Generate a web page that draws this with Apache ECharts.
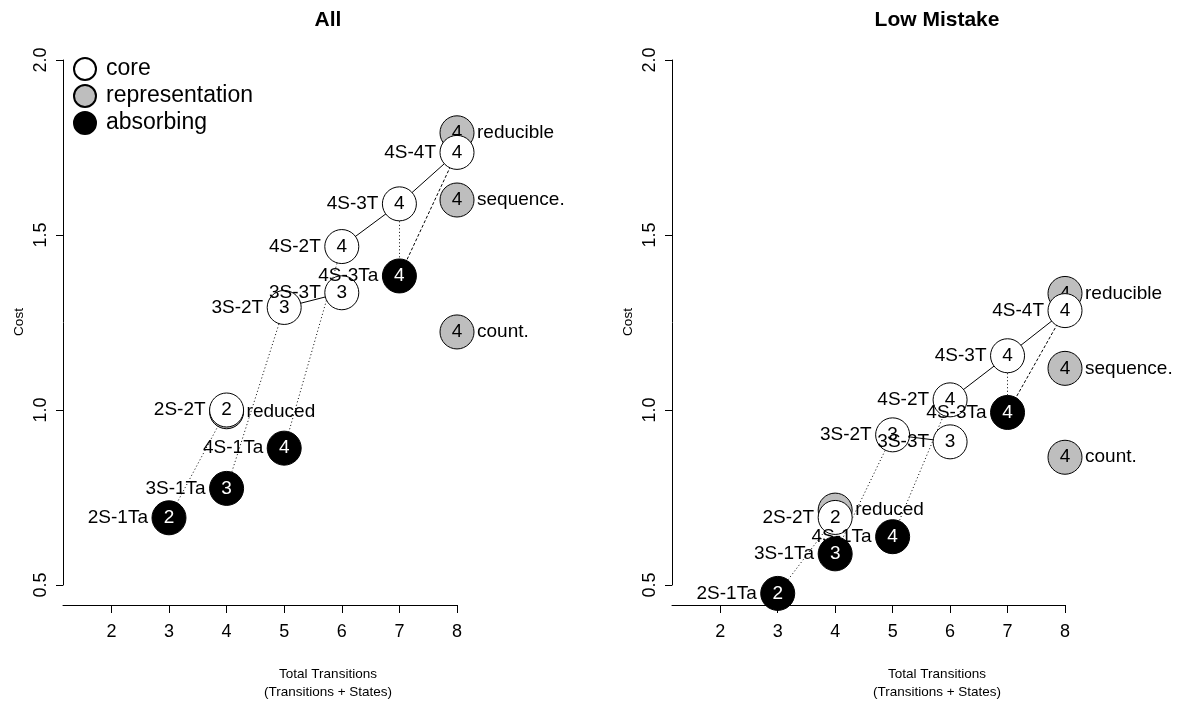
<!DOCTYPE html>
<html><head><meta charset="utf-8">
<script src="https://cdn.jsdelivr.net/npm/echarts@6/dist/echarts.min.js"></script>
<style>html,body{margin:0;padding:0;background:#fff}#c{width:1179px;height:704px}</style>
</head><body><div id="c"></div>
<script>
// ---- data ----
const panelTitles = ['All', 'Low Mistake'];
const coreNames = ['2S-2T', '3S-2T', '3S-3T', '4S-2T', '4S-3T', '4S-4T'];
const coreStates = [2, 3, 3, 4, 4, 4];
const coreX = [4, 5, 6, 6, 7, 8];
const allCoreCost = [1.0, 1.293, 1.335, 1.467, 1.589, 1.736];
const lowCoreCost = [0.693, 0.929, 0.909, 1.029, 1.155, 1.284];

const absNames = ['2S-1Ta', '3S-1Ta', '4S-1Ta', '4S-3Ta'];
const absStates = [2, 3, 4, 4];
const absX = [3, 4, 5, 7];
const allAbsCost = [0.692, 0.776, 0.891, 1.383];
const lowAbsCost = [0.476, 0.589, 0.638, 0.993];

const repNames = ['reduced', 'reducible', 'sequence.', 'count.'];
const repStates = [2, 4, 4, 4];
const repX = [4, 8, 8, 8];
const allRepCost = [0.995, 1.792, 1.6, 1.223];
const lowRepCost = [0.714, 1.333, 1.119, 0.865];

const solidEdges = [['4S-2T', '4S-3T'], ['4S-3T', '4S-4T'], ['3S-2T', '3S-3T']];
const dottedEdges = [['2S-2T', '2S-1Ta'], ['3S-2T', '3S-1Ta'], ['4S-2T', '4S-1Ta'], ['4S-3T', '4S-3Ta']];
const dashedEdges = [['4S-4T', '4S-3Ta']];

const xTicks = [2, 3, 4, 5, 6, 7, 8];
const yTicks = [0.5, 1.0, 1.5, 2.0];
const xTitle = ['Total Transitions', '(Transitions + States)'];
const yTitle = 'Cost';

// ---- layout ----
const FONT = '"Liberation Sans", Arial, Helvetica, sans-serif';
const grids = [
  { left: 63, top: 60, width: 394, height: 525 },
  { left: 672, top: 60, width: 393, height: 525 }
];
const panelCenters = [328, 937];
const SYM = 34;

const chart = echarts.init(document.getElementById('c'), null, { renderer: 'canvas' });

const xAxes = [], yAxes = [], series = [], graphics = [];
const costs = [[allCoreCost, allAbsCost, allRepCost], [lowCoreCost, lowAbsCost, lowRepCost]];

for (let p = 0; p < 2; p++) {
  xAxes.push({
    type: 'value', gridIndex: p, min: 1.16, max: 8, offset: 20,
    axisLine: { show: true, lineStyle: { color: '#000', width: 1 } },
    axisTick: { show: true, length: 8, customValues: xTicks, lineStyle: { color: '#000' } },
    axisLabel: { show: true, customValues: xTicks, color: '#000', fontSize: 18, fontFamily: FONT, margin: 18 },
    splitLine: { show: false }
  });
  yAxes.push({
    type: 'value', gridIndex: p, min: yTicks[0], max: yTicks[yTicks.length - 1], interval: 0.5,
    axisLine: { show: true, lineStyle: { color: '#000', width: 1 } },
    axisTick: { show: true, length: 7, lineStyle: { color: '#000' } },
    axisLabel: { show: true, rotate: 90, color: '#000', fontSize: 18, fontFamily: FONT, margin: 13,
      formatter: v => v.toFixed(1) },
    splitLine: { show: false }
  });

  const [cc, ac, rc] = costs[p];
  const pos = {};
  coreNames.forEach((n, i) => pos[n] = [coreX[i], cc[i]]);
  absNames.forEach((n, i) => pos[n] = [absX[i], ac[i]]);
  repNames.forEach((n, i) => pos[n] = [repX[i], rc[i]]);

  const mkLines = (edges, type) => ({
    type: 'lines', coordinateSystem: 'cartesian2d', xAxisIndex: p, yAxisIndex: p, clip: false,
    data: edges.map(e => ({ coords: [pos[e[0]], pos[e[1]]] })),
    lineStyle: { color: '#000', width: 1, type: type, opacity: 1 },
    silent: true, z: 1
  });
  series.push(mkLines(solidEdges, 'solid'));
  series.push(mkLines(dottedEdges, [1, 2.5]));
  series.push(mkLines(dashedEdges, [3, 2]));

  const mkPts = (name, names, xs, cs, st, fill, txt, z) => ({
    name: name, type: 'scatter', xAxisIndex: p, yAxisIndex: p, clip: false,
    symbol: 'circle', symbolSize: SYM,
    data: names.map((n, i) => ({ name: n, value: [xs[i], cs[i], st[i]] })),
    itemStyle: { color: fill, borderColor: '#000', borderWidth: 1, opacity: 1 },
    label: { show: true, position: 'inside', formatter: q => String(q.value[2]),
      color: txt, fontSize: 19, fontFamily: FONT, textBorderWidth: 0 },
    emphasis: { disabled: true }, silent: true, z: z
  });
  series.push(mkPts('representation', repNames, repX, rc, repStates, '#bebebe', '#000', 2));
  series.push(mkPts('core', coreNames, coreX, cc, coreStates, '#ffffff', '#000', 3));
  series.push(mkPts('absorbing', absNames, absX, ac, absStates, '#000000', '#fff', 3));

  const mkNames = (names, xs, cs, side) => ({
    type: 'scatter', xAxisIndex: p, yAxisIndex: p, clip: false, symbol: 'circle', symbolSize: SYM,
    data: names.map((n, i) => ({ name: n, value: [xs[i], cs[i]] })),
    itemStyle: { color: 'rgba(255,255,255,0)', borderWidth: 0 },
    label: { show: true, position: side, distance: side === 'left' ? 4 : 3, opacity: 1,
      formatter: q => q.name, color: '#000000', fontSize: 19, fontFamily: FONT,
      textBorderWidth: 0 },
    emphasis: { disabled: true }, silent: true, z: 5
  });
  series.push(mkNames(coreNames.concat(absNames), coreX.concat(absX), cc.concat(ac), 'left'));
  series.push(mkNames(repNames, repX, rc, 'right'));

  const cx = panelCenters[p];
  graphics.push({ type: 'text', x: cx, y: 20, silent: true,
    style: { text: panelTitles[p], fill: '#000', font: 'bold 21px ' + FONT, align: 'center', verticalAlign: 'middle' } });
  graphics.push({ type: 'text', x: cx, y: 674, silent: true,
    style: { text: xTitle[0], fill: '#000', font: '13.5px ' + FONT, align: 'center', verticalAlign: 'middle' } });
  graphics.push({ type: 'text', x: cx, y: 692, silent: true,
    style: { text: xTitle[1], fill: '#000', font: '13.5px ' + FONT, align: 'center', verticalAlign: 'middle' } });
  graphics.push({ type: 'text', x: grids[p].left - 44, y: 322, rotation: Math.PI / 2, silent: true,
    style: { text: yTitle, fill: '#000', font: '13.5px ' + FONT, align: 'center', verticalAlign: 'middle' } });
}

chart.setOption({
  animation: false,
  backgroundColor: '#fff',
  grid: grids,
  xAxis: xAxes,
  yAxis: yAxes,
  legend: {
    data: ['core', 'representation', 'absorbing'],
    orient: 'vertical', left: 73, top: 57, padding: 0,
    itemWidth: 22, itemHeight: 22, itemGap: 3, icon: 'circle', selectedMode: false,
    textStyle: { fontSize: 23, lineHeight: 22, fontFamily: FONT, color: '#000', padding: [0, 0, 0, 5] }
  },
  graphic: graphics,
  series: series
});
</script></body></html>
